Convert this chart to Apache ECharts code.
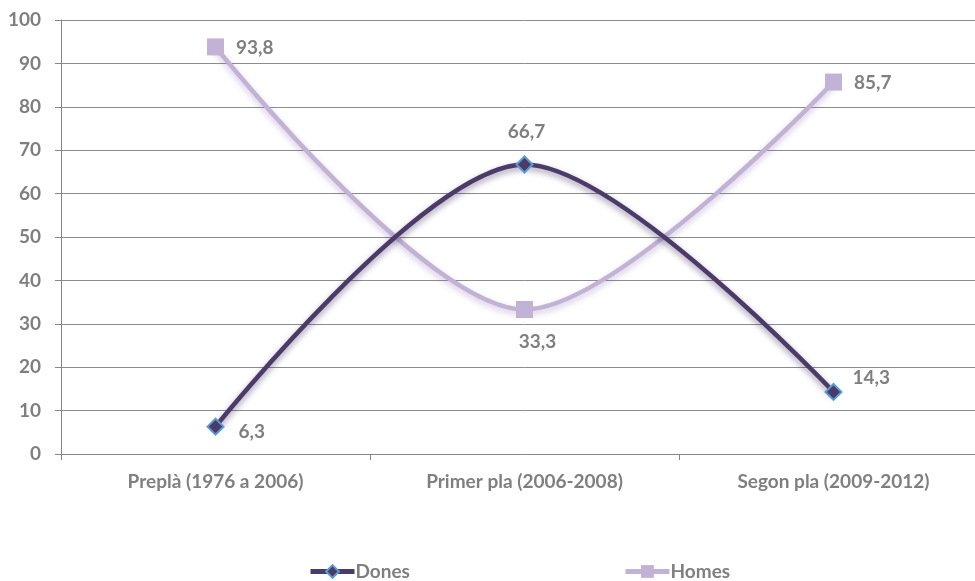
<!DOCTYPE html>
<html><head><meta charset="utf-8">
<script src="https://cdn.jsdelivr.net/npm/echarts@6/dist/echarts.min.js"></script>
<style>html,body{margin:0;padding:0;background:#fff;overflow:hidden}#c{width:990px;height:581px}</style>
</head><body><div id="c"></div>
<script>
const categories = ['Preplà (1976 a 2006)', 'Primer pla (2006-2008)', 'Segon pla (2009-2012)'];
const dones = [6.3, 66.7, 14.3];
const homes = [93.8, 33.3, 85.7];
const yTicks = [0, 10, 20, 30, 40, 50, 60, 70, 80, 90, 100];

const font = 'Lato, "Open Sans", sans-serif';
const grey = '#7f7f7f';
const fmt = v => String(v).replace('.', ',');
const labelStyle = { show: true, formatter: p => fmt(p.value), color: grey, fontFamily: font, fontWeight: 'bold', fontSize: 19, distance: 14 };
const donesLabels = [
  { position: 'right', offset: [0, 5] },
  { position: 'top', offset: [2, 0] },
  { position: 'right', offset: [-4, -14] }
];
const homesLabels = [
  { position: 'right', offset: [-2, 1] },
  { position: 'bottom', offset: [13, 0] },
  { position: 'right', offset: [-2, 1] }
];

const chart = echarts.init(document.getElementById('c'));
chart.setOption({
  animation: false,
  grid: { left: 61, top: 20, width: 927, height: 434, containLabel: false },
  legend: {
    top: 557, left: 303, itemGap: 213, itemWidth: 44, itemHeight: 16,
    lineStyle: { width: 5 },
    textStyle: { color: grey, fontFamily: font, fontWeight: 'bold', fontSize: 19, padding: [0, 0, 0, -4] },
    data: ['Dones', 'Homes']
  },
  xAxis: {
    type: 'category', data: categories, boundaryGap: true,
    axisLine: { lineStyle: { color: '#868686', width: 1 } },
    axisTick: { show: true, length: 6, lineStyle: { color: '#868686' } },
    axisLabel: { color: grey, fontFamily: font, fontWeight: 'bold', fontSize: 19, margin: 18 }
  },
  yAxis: {
    type: 'value', min: yTicks[0], max: yTicks[yTicks.length - 1], interval: 10,
    axisLine: { show: true, lineStyle: { color: '#868686' } },
    axisTick: { show: true, length: 6, lineStyle: { color: '#868686' } },
    splitLine: { lineStyle: { color: '#8c8c8c', width: 1 } },
    axisLabel: { color: grey, fontFamily: font, fontWeight: 'bold', fontSize: 19, margin: 20 }
  },
  series: [
    {
      name: 'Dones', type: 'line', smooth: 0.31,
      data: dones.map((v, i) => ({ value: v, label: donesLabels[i] })),
      symbol: 'diamond', symbolSize: 16,
      lineStyle: { color: '#4b3b68', width: 4.5, shadowBlur: 6, shadowColor: 'rgba(40,20,70,0.45)', shadowOffsetY: 3 },
      itemStyle: { color: '#4b3b68', borderColor: '#5b9bd5', borderWidth: 2 },
      label: labelStyle,
      z: 3
    },
    {
      name: 'Homes', type: 'line', smooth: 0.31,
      data: homes.map((v, i) => ({ value: v, label: homesLabels[i] })),
      symbol: 'rect', symbolSize: 17,
      lineStyle: { color: '#c1b2d6', width: 4.5, shadowBlur: 6, shadowColor: 'rgba(120,90,160,0.35)', shadowOffsetY: 3 },
      itemStyle: { color: '#c1b2d6' },
      label: labelStyle,
      z: 2
    }
  ]
});
</script></body></html>
